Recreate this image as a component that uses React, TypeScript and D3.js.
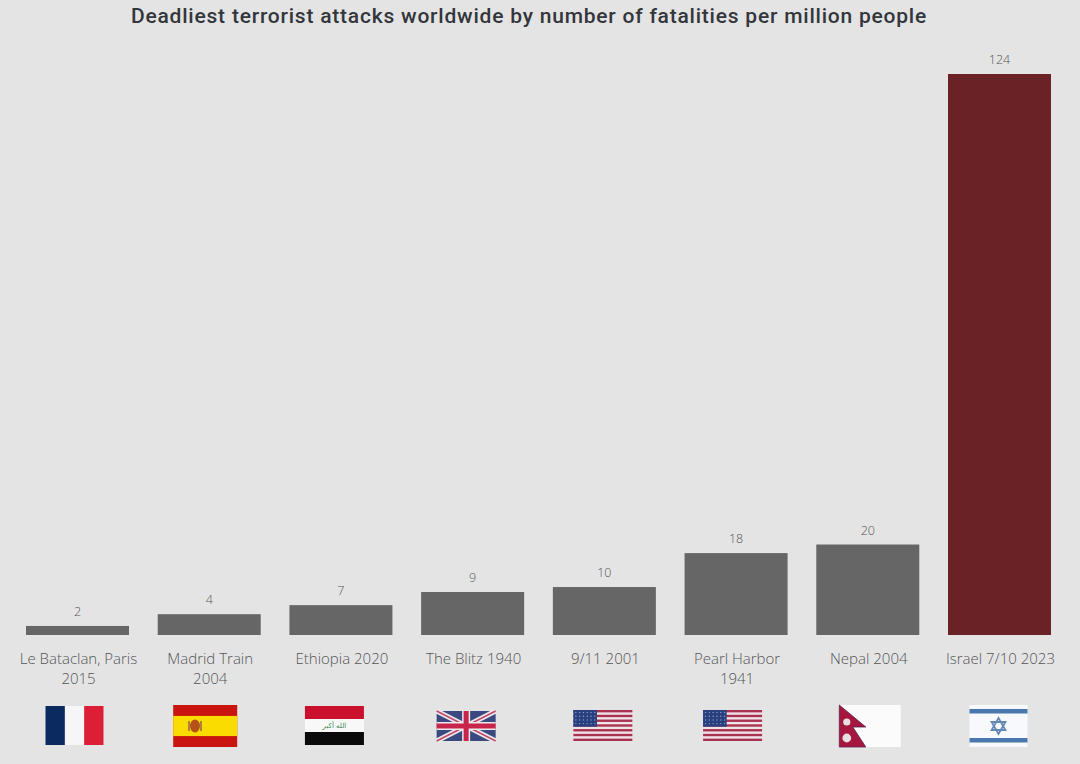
import * as React from "react";
import * as d3 from "d3";

const categories = [
  "Le Bataclan, Paris 2015",
  "Madrid Train 2004",
  "Ethiopia 2020",
  "The Blitz 1940",
  "9/11 2001",
  "Pearl Harbor 1941",
  "Nepal 2004",
  "Israel 7/10 2023",
];
// bar heights, they don't quite agree with the printed labels
const barValues = [2, 4.6, 6.6, 9.5, 10.6, 18.1, 20, 124];
const valueLabels = ["2", "4", "7", "9", "10", "18", "20", "124"];
const categoryLines = [
  ["Le Bataclan, Paris", "2015"],
  ["Madrid Train", "2004"],
  ["Ethiopia 2020"],
  ["The Blitz 1940"],
  ["9/11 2001"],
  ["Pearl Harbor", "1941"],
  ["Nepal 2004"],
  ["Israel 7/10 2023"],
];
const flags = ["fr", "es", "iq", "gb", "us", "us", "np", "il"];
const title = "Deadliest terrorist attacks worldwide by number of fatalities per million people";

const WIDTH = 1080;
const HEIGHT = 764;
const BASE = 635;
const TOP = 74;
const LABEL_FONT = "'Open Sans', sans-serif";

// flag box per category: dx from the band centre, y, w, h
const flagBox = [
  [-32, 706, 58, 39],
  [-36, 705, 64, 42],
  [-36, 706, 59, 39],
  [-36, 711, 59, 30],
  [-31, 710, 59, 31],
  [-33, 710, 59, 31],
  [-29, 705, 62, 42],
  [-30, 705, 58, 42],
];

function Flag({ code, w, h }: { code: string; w: number; h: number }) {
  if (code === "fr") {
    return (
      <g>
        <rect width={w / 3 + 0.5} height={h} fill="#0b2a5f" />
        <rect x={w / 3} width={w / 3} height={h} fill="#f6f6f8" />
        <rect x={(2 * w) / 3} width={w / 3} height={h} fill="#dc1f36" />
      </g>
    );
  }
  if (code === "es") {
    return (
      <g>
        <rect width={w} height={h} fill="#c9140f" />
        <rect y={h * 0.26} width={w} height={h * 0.48} fill="#fbdc00" />
        <ellipse cx={w * 0.34} cy={h / 2} rx={5} ry={6.5} fill="#b8501a" />
        <rect x={w * 0.34 - 7} y={h / 2 - 5} width={2} height={10} fill="#a9823a" />
        <rect x={w * 0.34 + 5} y={h / 2 - 5} width={2} height={10} fill="#a9823a" />
      </g>
    );
  }
  if (code === "iq") {
    return (
      <g>
        <rect width={w} height={h / 3} fill="#c9112d" />
        <rect y={h / 3} width={w} height={h / 3} fill="#f8f8f8" />
        <rect y={(2 * h) / 3} width={w} height={h / 3} fill="#0a0a0a" />
        <text x={w / 2} y={h / 2 + 2.5} textAnchor="middle" fontSize={7} fill="#3c8a50" fontFamily="'DejaVu Sans'">
          الله أكبر
        </text>
      </g>
    );
  }
  if (code === "gb") {
    const diag = `M0,0L${w},${h}M${w},0L0,${h}`;
    return (
      <g>
        <rect width={w} height={h} fill="#3a4a80" />
        <path d={diag} stroke="#ece8ec" strokeWidth={5} />
        <path d={diag} stroke="#c04a66" strokeWidth={1.5} />
        <path d={`M${w / 2},0V${h}M0,${h / 2}H${w}`} stroke="#ece8ec" strokeWidth={8} />
        <path d={`M${w / 2},0V${h}M0,${h / 2}H${w}`} stroke="#c8254a" strokeWidth={5} />
      </g>
    );
  }
  if (code === "us") {
    const stripe = h / 13;
    return (
      <g>
        <rect width={w} height={h} fill="#f0e4ea" />
        {d3.range(0, 13, 2).map((i) => (
          <rect key={i} y={i * stripe} width={w} height={stripe} fill="#a8324f" />
        ))}
        <rect width={w * 0.4} height={stripe * 7} fill="#28407f" />
        {d3.range(4).map((r) =>
          d3.range(6).map((c) => (
            <circle key={`${r}-${c}`} cx={2.5 + c * 3.8} cy={2.5 + r * 3.7} r={0.7} fill="#8f9cc4" />
          ))
        )}
      </g>
    );
  }
  if (code === "np") {
    const pennant = `M0.5,0L27,22L14,22L27,42L0.5,42Z`;
    return (
      <g>
        <rect width={w} height={h} fill="#fbfbfb" />
        <path d={pennant} fill="#a5173f" stroke="#5a2050" strokeWidth={0.8} />
        <circle cx={8} cy={17} r={3.6} fill="#e8dfe2" />
        <circle cx={8} cy={33} r={4.4} fill="#e8dfe2" />
      </g>
    );
  }
  const cx = w / 2;
  const cy = h / 2;
  const tri = (flip: number) =>
    d3.range(3).map((i) => {
      const a = (i * 2 * Math.PI) / 3 + (flip * Math.PI) / 3 - Math.PI / 2;
      return [cx + 8 * Math.cos(a), cy + 8 * Math.sin(a)];
    });
  const triPath = (flip: number) => `M${tri(flip).map((p) => p.join(",")).join("L")}Z`;
  return (
    <g>
      <rect width={w} height={h} fill="#f7f9fc" />
      <rect y={4} width={w} height={4.5} fill="#4a78ae" />
      <rect y={33} width={w} height={4.5} fill="#4a78ae" />
      <path d={triPath(0)} fill="none" stroke="#6488b4" strokeWidth={1.8} />
      <path d={triPath(1)} fill="none" stroke="#6488b4" strokeWidth={1.8} />
    </g>
  );
}

export default function App() {
  const x = d3.scaleBand<string>().domain(categories).range([26, 1051]).paddingInner(0.218);
  const y = d3.scaleLinear().domain([0, 124]).range([BASE, TOP]);

  return (
    <svg
      width={WIDTH}
      height={HEIGHT}
      viewBox={`0 0 ${WIDTH} ${HEIGHT}`}
      style={{ position: "absolute", left: 0, top: 0, background: "#e4e4e5" }}
    >
      <text
        x={529}
        y={23}
        textAnchor="middle"
        fontFamily="Roboto, sans-serif"
        fontWeight={500}
        fontSize={21}
        letterSpacing={0.78}
        fill="#33363a"
      >
        {title}
      </text>
      {categories.map((c, i) => {
        const cx = (x(c) as number) + x.bandwidth() / 2;
        const [dx, fy, fw, fh] = flagBox[i];
        return (
          <g key={c}>
            <rect
              x={x(c)}
              y={y(barValues[i])}
              width={x.bandwidth()}
              height={BASE - y(barValues[i])}
              fill={i === categories.length - 1 ? "#6b2227" : "#666666"}
            />
            <text
              x={cx}
              y={y(barValues[i]) - 10}
              textAnchor="middle"
              fontFamily={LABEL_FONT}
              fontWeight={300}
              fontSize={12.5}
              fill="#555555"
            >
              {valueLabels[i]}
            </text>
            {categoryLines[i].map((line, j) => (
              <text
                key={line}
                x={cx + 1}
                y={664 + j * 20}
                textAnchor="middle"
                fontFamily={LABEL_FONT}
                fontWeight={300}
                fontSize={15}
                fill="#555555"
              >
                {line}
              </text>
            ))}
            <g transform={`translate(${cx + dx},${fy})`}>
              <Flag code={flags[i]} w={fw} h={fh} />
            </g>
          </g>
        );
      })}
    </svg>
  );
}
